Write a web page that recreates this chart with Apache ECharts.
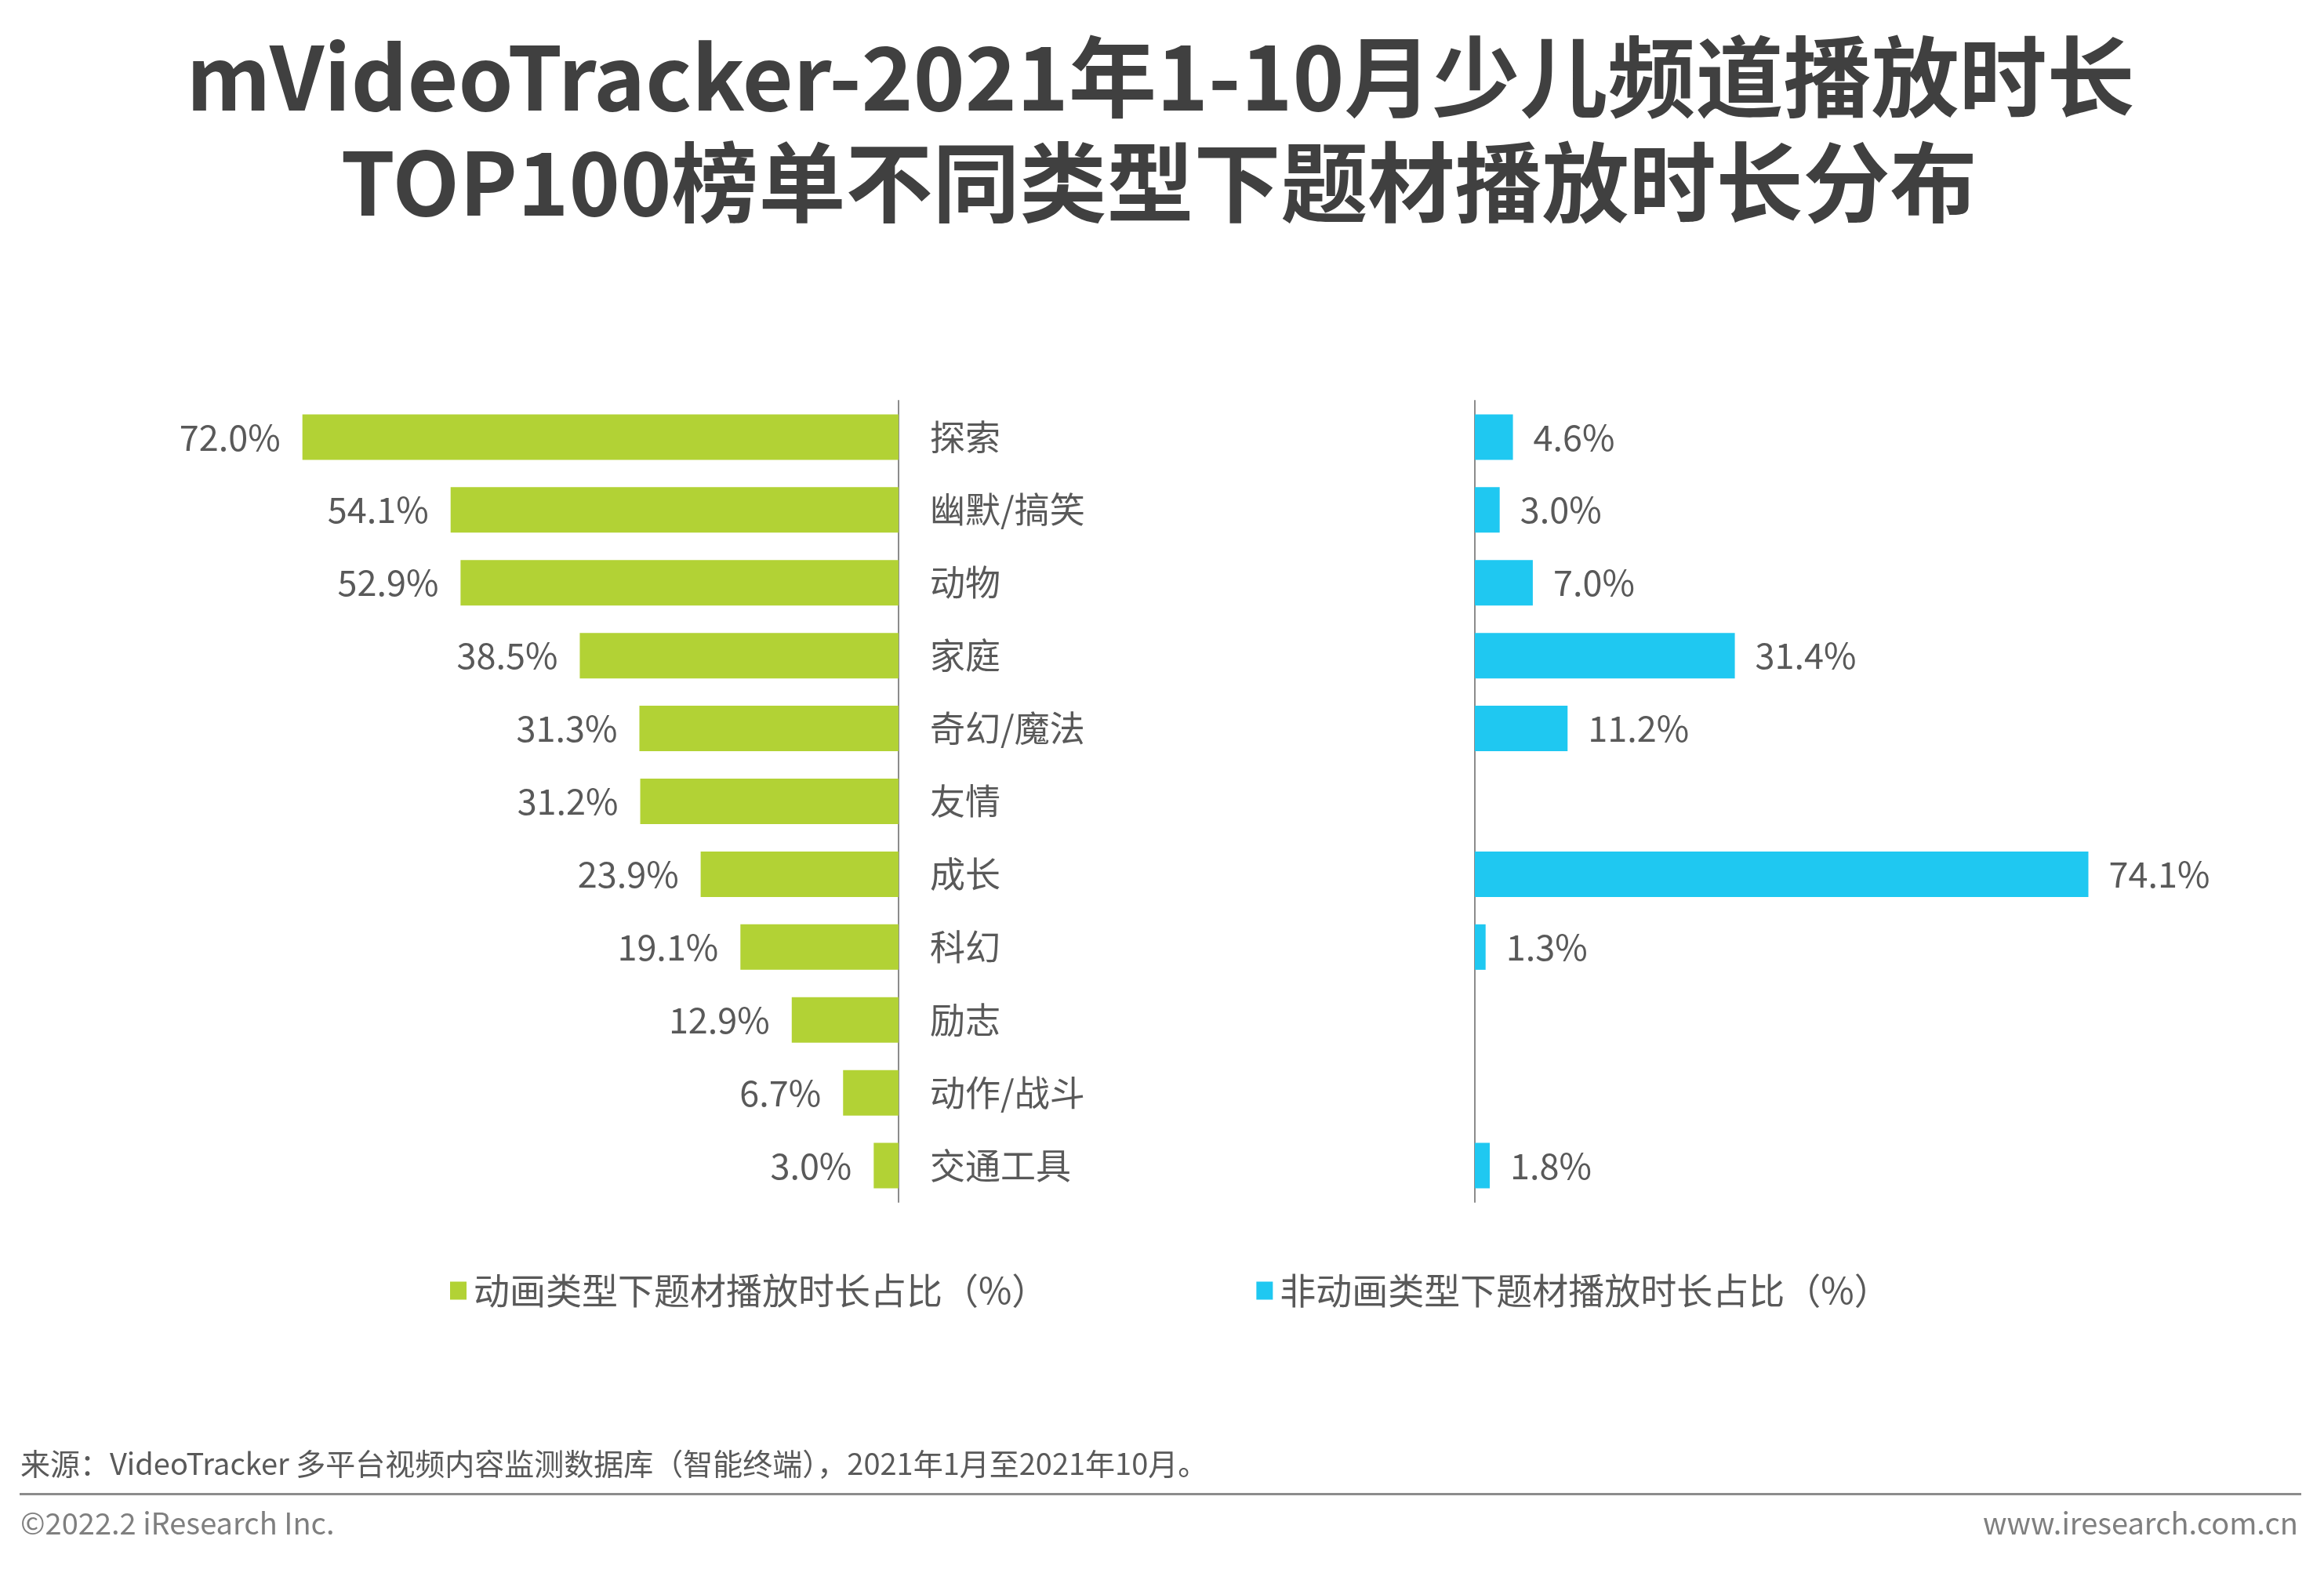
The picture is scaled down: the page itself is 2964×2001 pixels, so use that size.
<!DOCTYPE html>
<html>
<head>
<meta charset="utf-8">
<script src="https://cdn.jsdelivr.net/npm/echarts@6/dist/echarts.min.js"></script>
<style>
html,body{margin:0;padding:0;background:#fff;}
#c{width:2964px;height:2001px;}
</style>
</head>
<body>
<div id="c"></div>
<script>
var categories = ['探索','幽默/搞笑','动物','家庭','奇幻/魔法','友情','成长','科幻','励志','动作/战斗','交通工具'];
var animeValues = [72.0, 54.1, 52.9, 38.5, 31.3, 31.2, 23.9, 19.1, 12.9, 6.7, 3.0];
var nonAnimeValues = [4.6, 3.0, 7.0, 31.4, 11.2, null, 74.1, 1.3, null, null, 1.8];
var seriesNames = ['动画类型下题材播放时长占比（%）', '非动画类型下题材播放时长占比（%）'];
var titleLine1 = 'mVideoTracker-2021年1-10月少儿频道播放时长';
var titleLine2 = 'TOP100榜单不同类型下题材播放时长分布';
var sourceText = '来源：VideoTracker 多平台视频内容监测数据库（智能终端），2021年1月至2021年10月。';
var copyrightText = '©2022.2 iResearch Inc.';
var siteText = 'www.iresearch.com.cn';

var FONT = '"Noto Sans CJK SC", "Noto Sans", sans-serif';
var chart = echarts.init(document.getElementById('c'));
function fmt(p){ return p.value == null ? '' : p.value.toFixed(1) + '%'; }

chart.setOption({
  backgroundColor: '#ffffff',
  textStyle: { fontFamily: FONT },
  legend: {
    data: seriesNames,
    left: 574,
    top: 1623,
    icon: 'rect',
    itemWidth: 21,
    itemHeight: 23,
    itemGap: 266,
    padding: 0,
    textStyle: { fontSize: 46, color: '#595959', fontFamily: FONT, padding: [0,0,0,4] }
  },
  grid: [
    { left: 90, width: 1056, top: 511, height: 1022 },
    { left: 1881, width: 1056, top: 511, height: 1022 }
  ],
  xAxis: [
    { gridIndex: 0, type: 'value', min: 0, max: 100, inverse: true, show: false },
    { gridIndex: 1, type: 'value', min: 0, max: 100, show: false }
  ],
  yAxis: [
    { gridIndex: 0, type: 'category', data: categories, inverse: true, position: 'right',
      axisLine: { show: true, lineStyle: { color: '#8c8c8c', width: 2 } },
      axisTick: { show: false },
      axisLabel: { margin: 40, fontSize: 45, color: '#595959', fontFamily: FONT }
    },
    { gridIndex: 1, type: 'category', data: categories, inverse: true, position: 'left',
      axisLine: { show: true, lineStyle: { color: '#8c8c8c', width: 2 } },
      axisTick: { show: false },
      axisLabel: { show: false }
    }
  ],
  series: [
    { name: seriesNames[0], type: 'bar', xAxisIndex: 0, yAxisIndex: 0, data: animeValues,
      barWidth: 58, itemStyle: { color: '#B2D235' },
      label: { show: true, position: 'left', distance: 28, fontSize: 45, color: '#595959', formatter: fmt, fontFamily: FONT }
    },
    { name: seriesNames[1], type: 'bar', xAxisIndex: 1, yAxisIndex: 1, data: nonAnimeValues,
      barWidth: 58, itemStyle: { color: '#1FC8F1' },
      label: { show: true, position: 'right', distance: 26, fontSize: 45, color: '#595959', formatter: fmt, fontFamily: FONT }
    }
  ],
  graphic: [
    { type: 'text', x: 1480, y: 98, style: { text: titleLine1, fontSize: 112, fontWeight: 'bold', fill: '#404040', fontFamily: FONT, textAlign: 'center', textVerticalAlign: 'middle' } },
    { type: 'text', x: 1478, y: 233, style: { text: titleLine2, fontSize: 111, fontWeight: 'bold', fill: '#404040', fontFamily: FONT, textAlign: 'center', textVerticalAlign: 'middle' } },
    { type: 'text', x: 26, y: 1867, style: { text: sourceText, fontSize: 38, fill: '#595959', fontFamily: FONT, textVerticalAlign: 'middle' } },
    { type: 'rect', shape: { x: 25, y: 1904, width: 2910, height: 3 }, style: { fill: '#8c8c8c' } },
    { type: 'text', x: 26, y: 1943, style: { text: copyrightText, fontSize: 38, fill: '#7f7f7f', fontFamily: FONT, textVerticalAlign: 'middle' } },
    { type: 'text', x: 2931, y: 1943, style: { text: siteText, fontSize: 38, fill: '#7f7f7f', fontFamily: FONT, textAlign: 'right', textVerticalAlign: 'middle' } }
  ]
});
</script>
</body>
</html>
